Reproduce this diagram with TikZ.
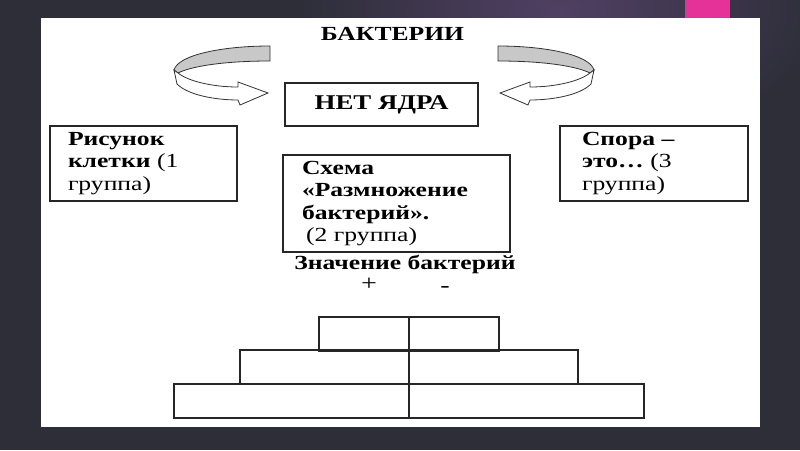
\documentclass[tikz,border=0pt]{standalone}
\usepackage{fontspec}
\setmainfont[FakeStretch=1.28]{Liberation Serif}
\definecolor{slidebg}{RGB}{46,46,57}
\definecolor{glow}{RGB}{80,64,100}
\definecolor{accent}{RGB}{228,50,152}
\definecolor{ribbon}{RGB}{200,200,200}
\tikzset{
  box/.style={draw=black!85, line width=1.3pt, inner ysep=0pt, fill=white,
    font=\fontsize{20}{22.5}\selectfont},
  title/.style={font=\fontsize{20}{22.5}\selectfont\bfseries, inner sep=0pt},
  sign/.style={font=\fontsize{22}{24}\selectfont, inner sep=0pt, anchor=base},
  cellline/.style={draw=black!85, line width=1.3pt},
  bendarrow/.pic={
    \filldraw[ribbon, draw=black!80, line width=0.8pt]
      (270,46) .. controls (222,46) and (178,55) .. (174,70)
      -- (178,73) .. controls (192,66) and (225,61) .. (270,61) -- cycle;
    \filldraw[fill=white, draw=black!80, line width=0.8pt]
      (174,70) -- (177,84) .. controls (188,95) and (215,100) .. (238,100)
      -- (240,105) -- (268,93) -- (238,82) -- (238,87)
      .. controls (212,87) and (188,81) .. (178,73) -- cycle;
  }
}
\begin{document}
\begin{tikzpicture}[x=1pt, y=-1pt]
    \useasboundingbox (0,0) rectangle (800,450);
    % slide background
    \fill[slidebg] (0,0) rectangle (800,450);
    \begin{scope}
        \clip (0,0) rectangle (800,450);
        \shade[inner color=glow, outer color=slidebg] (560,10) ellipse [x radius=260pt, y radius=140pt];
    \end{scope}
    \fill[accent] (685,0) rectangle (730,18);
    \fill[white] (41,18) rectangle (760,427);
    % heading and centre box
    \node[title, anchor=base] (bact) at (392.5,40) {БАКТЕРИИ};
    \node[box, font=\fontsize{21}{22.5}\selectfont\bfseries, minimum width=193pt, minimum height=43pt] (core) at (381.5,104.5) {НЕТ ЯДРА};
    % curved arrows
    \pic at (0,0) {bendarrow};
    \pic[xscale=-1] at (768,0) {bendarrow};
    % group boxes
    \node[box, align=left, inner xsep=18pt, text width=151pt, minimum height=75pt] (cell) at (143.5,163.5)
        {\textbf{Рисунок}\\ \textbf{клетки} (1\\ группа)};
    \node[box, align=left, inner xsep=22pt, text width=144pt, minimum height=75pt] (spore) at (654,163.5)
        {\textbf{Спора –}\\ \textbf{это…} (3\\ группа)};
    \node[box, align=left, inner xsep=19pt, text width=189pt, minimum height=97pt] (scheme) at (396.5,203.5)
        {\textbf{Схема}\\ \textbf{«Размножение}\\ \textbf{бактерий».}\\ \hspace*{4pt}(2 группа)};
    % value of bacteria
    \node[title, anchor=base] (value) at (405,269) {Значение бактерий};
    \node[sign] (plus) at (369,290) {+};
    \node[sign] (minus) at (445,292) {-};
    % pyramid
    \foreach \l/\t in {319/317, 240/350, 174/384}
        \draw[cellline] (\l,\t) rectangle ({818-\l},{\t+34});
    \draw[cellline] (409,317) -- (409,418);
\end{tikzpicture}
\end{document}
